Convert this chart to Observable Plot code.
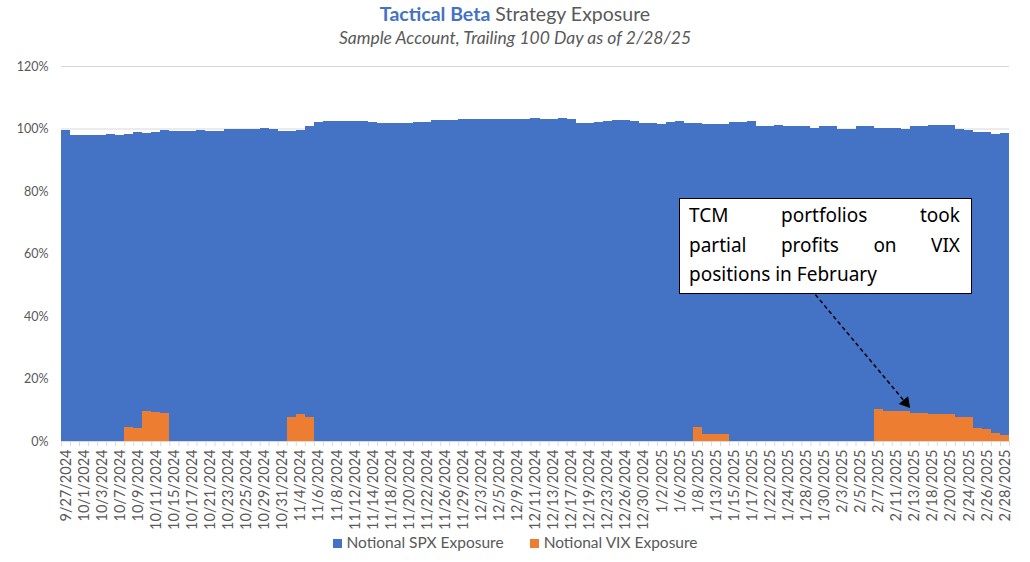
<!DOCTYPE html>
<html>
<head>
<meta charset="utf-8">
<script src="https://cdn.jsdelivr.net/npm/d3@7"></script>
<script src="https://cdn.jsdelivr.net/npm/@observablehq/plot@0.6"></script>
<style>
  body { margin: 0; background: #fff; font-family: Lato, "Open Sans", sans-serif; }
  #wrap { position: relative; width: 1030px; height: 562px; overflow: hidden; background: #fff; }
  #chart { position: absolute; left: 0; top: 0; }
  #title { position: absolute; left: 0; top: 2px; width: 1030px; text-align: center; font-size: 19.5px; line-height: 24px; color: #595959; }
  #title b { color: #4472C4; font-weight: 700; }
  #subtitle { position: absolute; left: 0; top: 27px; width: 1030px; text-align: center; font-size: 17.5px; line-height: 22px; color: #595959; font-style: italic; }
  #legend { position: absolute; left: 0; top: 532px; width: 1030px; text-align: center; font-size: 15.5px; line-height: 20px; color: #595959; }
  #legend span.item { display: inline-block; margin: 0 13px; }
  #legend i { display: inline-block; width: 9px; height: 9px; margin-right: 5px; vertical-align: 0px; }
  #note { position: absolute; left: 679px; top: 198px; width: 293px; height: 96px; box-sizing: border-box;
          border: 1.5px solid #000; background: #fff; padding: 2px 11px 0 9px;
          font-family: "Noto Sans", "DejaVu Sans", sans-serif; font-size: 19px; line-height: 29.5px; color: #000; }
  #note div.j { text-align: justify; text-align-last: justify; }
</style>
</head>
<body>
<div id="wrap">
  <div id="chart"></div>
  <div id="title"></div>
  <div id="subtitle"></div>
  <div id="legend"></div>
  <div id="note"></div>
</div>
<script>
// ---- Data ----
const titleBold = "Tactical Beta";
const titleRest = "Strategy Exposure";
const subtitle = "Sample Account, Trailing 100 Day as of 2/28/25";
const seriesNames = ["Notional SPX Exposure", "Notional VIX Exposure"];
const seriesColors = ["#4472C4", "#ED7D31"];

const dates = [
  "9/27/2024","9/30/2024",
  "10/1/2024","10/2/2024","10/3/2024","10/4/2024","10/7/2024","10/8/2024","10/9/2024","10/10/2024","10/11/2024",
  "10/14/2024","10/15/2024","10/16/2024","10/17/2024","10/18/2024","10/21/2024","10/22/2024","10/23/2024","10/24/2024",
  "10/25/2024","10/28/2024","10/29/2024","10/30/2024","10/31/2024",
  "11/1/2024","11/4/2024","11/5/2024","11/6/2024","11/7/2024","11/8/2024","11/11/2024","11/12/2024","11/13/2024",
  "11/14/2024","11/15/2024","11/18/2024","11/19/2024","11/20/2024","11/21/2024","11/22/2024","11/25/2024","11/26/2024",
  "11/27/2024","11/29/2024",
  "12/2/2024","12/3/2024","12/4/2024","12/5/2024","12/6/2024","12/9/2024","12/10/2024","12/11/2024","12/12/2024",
  "12/13/2024","12/16/2024","12/17/2024","12/18/2024","12/19/2024","12/20/2024","12/23/2024","12/24/2024","12/26/2024",
  "12/27/2024","12/30/2024","12/31/2024",
  "1/2/2025","1/3/2025","1/6/2025","1/7/2025","1/8/2025","1/10/2025","1/13/2025","1/14/2025","1/15/2025","1/16/2025",
  "1/17/2025","1/21/2025","1/22/2025","1/23/2025","1/24/2025","1/27/2025","1/28/2025","1/29/2025","1/30/2025","1/31/2025",
  "2/3/2025","2/4/2025","2/5/2025","2/6/2025","2/7/2025","2/10/2025","2/11/2025","2/12/2025","2/13/2025","2/14/2025",
  "2/18/2025","2/19/2025","2/20/2025","2/21/2025","2/24/2025","2/25/2025","2/26/2025","2/27/2025","2/28/2025"
];

const spx = [
  99.6, 98.0, 98.0, 98.0, 98.0, 98.2, 97.8, 98.2, 98.8, 98.5,
  98.8, 99.5, 99.2, 99.2, 99.2, 99.6, 99.2, 99.2, 99.9, 99.9,
  99.9, 99.9, 100.3, 99.9, 99.3, 99.3, 99.6, 100.8, 102.0, 102.5,
  102.5, 102.5, 102.5, 102.5, 102.2, 101.7, 101.7, 101.7, 101.7, 102.1,
  102.1, 102.6, 102.6, 102.6, 102.9, 102.9, 102.9, 103.2, 103.2, 103.2,
  103.0, 103.0, 103.3, 103.0, 103.0, 103.3, 102.9, 101.7, 101.7, 102.0,
  102.4, 102.8, 102.8, 102.5, 101.7, 101.7, 101.3, 102.0, 102.4, 101.9,
  101.9, 101.3, 101.4, 101.4, 102.0, 102.0, 102.5, 100.7, 100.9, 101.1,
  100.7, 100.7, 100.7, 100.3, 100.7, 100.7, 100.0, 100.0, 100.7, 100.7,
  100.3, 100.3, 100.3, 100.0, 100.8, 100.8, 101.1, 101.1, 101.1, 99.8,
  99.4, 98.9, 98.9, 98.1, 98.7
];

const vix = [
  0, 0, 0, 0, 0, 0, 0, 4.6, 4.2, 9.7,
  9.4, 9.0, 0, 0, 0, 0, 0, 0, 0, 0,
  0, 0, 0, 0, 0, 7.6, 8.5, 7.6, 0, 0,
  0, 0, 0, 0, 0, 0, 0, 0, 0, 0,
  0, 0, 0, 0, 0, 0, 0, 0, 0, 0,
  0, 0, 0, 0, 0, 0, 0, 0, 0, 0,
  0, 0, 0, 0, 0, 0, 0, 0, 0, 0,
  4.6, 2.4, 2.4, 2.4, 0, 0, 0, 0, 0, 0,
  0, 0, 0, 0, 0, 0, 0, 0, 0, 0,
  10.1, 9.5, 9.5, 9.5, 9.1, 9.1, 8.7, 8.7, 8.7, 7.6,
  7.6, 4.3, 3.8, 2.5, 2.0
];

const yTicks = [0, 20, 40, 60, 80, 100, 120];

const noteLines = ["TCM portfolios took", "partial profits on VIX", "positions in February"];
const noteArrow = { fromDate: "1/29/2025", fromValue: 47.0, toDate: "2/12/2025", toValue: 12.4 };

// ---- Build ----
const rows = dates.map((d, i) => ({ i, date: d, spx: spx[i], vix: vix[i] }));
const labelTicks = d3.range(0, dates.length, 2).map(i => i + 0.5);
const boundaryTicks = d3.range(0, dates.length + 1);
const idx = d => dates.indexOf(d) + 0.5;

const plot = Plot.plot({
  width: 1030,
  height: 562,
  marginTop: 66,
  marginBottom: 121,
  marginLeft: 61,
  marginRight: 21,
  style: { fontFamily: "Lato, 'Open Sans', sans-serif", color: "#595959", background: "transparent" },
  x: { type: "linear", domain: [0, dates.length], label: null },
  y: { domain: [0, 120], label: null },
  marks: [
    Plot.gridY(yTicks.filter(t => t > 0), { stroke: "#d9d9d9", strokeOpacity: 1, strokeWidth: 1 }),
    Plot.rectY(rows, { x1: "i", x2: d => d.i + 1, y: "spx", fill: seriesColors[0], shapeRendering: "crispEdges" }),
    Plot.rectY(rows.filter(d => d.vix > 0), { x1: "i", x2: d => d.i + 1, y: "vix", fill: seriesColors[1], shapeRendering: "crispEdges" }),
    Plot.ruleY([0], { stroke: "#d9d9d9", strokeWidth: 1 }),
    Plot.axisY({ ticks: yTicks, tickFormat: d => d + "%", tickSize: 0, tickPadding: 13, fontSize: 12.5, fill: "#595959", label: null }),
    Plot.axisX({ ticks: boundaryTicks, tickFormat: () => "", tickSize: 5, stroke: "#d9d9d9", strokeOpacity: 1, label: null }),
    Plot.axisX({ ticks: labelTicks, tickFormat: t => dates[Math.floor(t)], tickRotate: -90, tickSize: 0, tickPadding: 8, fontSize: 14.5, fill: "#595959", label: null }),
    Plot.link([noteArrow], {
      x1: d => idx(d.fromDate), y1: "fromValue", x2: d => idx(d.toDate), y2: "toValue",
      stroke: "#000", strokeWidth: 1.5, strokeDasharray: "4,3"
    }),
    Plot.dot([noteArrow], {
      x: d => idx(d.toDate), y: "toValue", symbol: "triangle", r: 4.5, fill: "#000", stroke: "none", rotate: 140
    })
  ]
});
document.getElementById("chart").appendChild(plot);

document.getElementById("title").innerHTML = `<b>${titleBold}</b> ${titleRest}`;
document.getElementById("subtitle").textContent = subtitle;
document.getElementById("legend").innerHTML = seriesNames.map((n, k) =>
  `<span class="item"><i style="background:${seriesColors[k]}"></i>${n}</span>`).join("");
document.getElementById("note").innerHTML = noteLines.map((l, k) =>
  `<div class="${k < noteLines.length - 1 ? "j" : ""}">${l}</div>`).join("");
</script>
</body>
</html>
